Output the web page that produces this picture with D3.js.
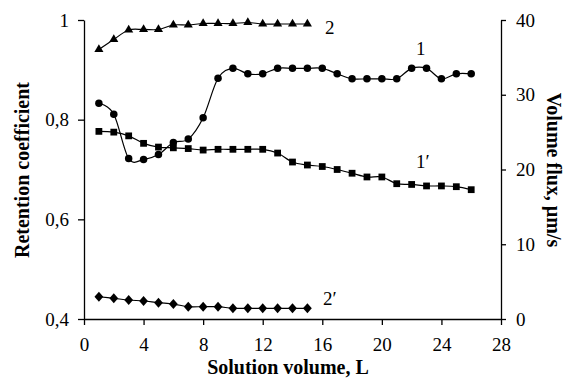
<!DOCTYPE html>
<html>
<head>
<meta charset="utf-8">
<script src="https://cdn.jsdelivr.net/npm/d3@7"></script>
<style>
  body { margin: 0; background: #fff; }
  svg text { font-family: 'Liberation Serif', 'Times New Roman', Tinos, 'DejaVu Serif', serif !important; fill: #000; }
</style>
</head>
<body>
<svg id="chart" width="566" height="384"></svg>
<script>
// solution volume, L
const volume = [1, 2, 3, 4, 5, 6, 7, 8, 9, 10, 11, 12, 13, 14, 15, 16, 17, 18, 19, 20, 21, 22, 23, 24, 25, 26];
const volumeShort = volume.slice(0, 15);

// retention coefficient (left axis)
const retention1 = [0.833, 0.811, 0.722, 0.720, 0.730, 0.754, 0.761, 0.804, 0.883, 0.903, 0.892, 0.892, 0.903, 0.903, 0.903,
                    0.903, 0.892, 0.882, 0.882, 0.882, 0.882, 0.903, 0.903, 0.882, 0.892, 0.892];
const retention2 = [0.941, 0.961, 0.980, 0.981, 0.981, 0.990, 0.990, 0.993, 0.993, 0.993, 0.995, 0.992, 0.992, 0.992, 0.992];

// volume flux, um/s (right axis)
const flux1 = [25.1, 25.0, 24.5, 23.5, 23.0, 22.9, 22.8, 22.6, 22.7, 22.7, 22.7, 22.7, 22.2, 21.0, 20.6,
               20.4, 20.0, 19.5, 19.0, 19.0, 18.1, 18.0, 17.8, 17.8, 17.7, 17.3];
const flux2 = [2.98, 2.77, 2.54, 2.41, 2.18, 2.0, 1.65, 1.65, 1.65, 1.43, 1.43, 1.43, 1.43, 1.43, 1.43];

const xTicks = [0, 4, 8, 12, 16, 20, 24, 28];
const leftTicks = [0.4, 0.6, 0.8, 1];
const rightTicks = [0, 10, 20, 30, 40];

const FONT = "'Liberation Serif', 'Times New Roman', Tinos, 'DejaVu Serif', serif";

const svg = d3.select('#chart');
const margin = {left: 84, right: 65, top: 20, bottom: 65};
const W = 566, H = 384;

const x = d3.scaleLinear().domain([0, 28]).range([margin.left, W - margin.right]);
const yL = d3.scaleLinear().domain([0.4, 1]).range([H - margin.bottom, margin.top]);
const yR = d3.scaleLinear().domain([0, 40]).range([H - margin.bottom, margin.top]);

const fmtComma = d => d === 1 ? '1' : d3.format('.1f')(d).replace('.', ',');

// axes
const styleAxis = g => {
  g.attr('font-family', FONT);
  g.select('.domain').attr('stroke', '#000').attr('stroke-width', 1.3);
  g.selectAll('.tick line').attr('stroke', '#000').attr('stroke-width', 1.3);
  g.selectAll('.tick text').style('font-size', '19px').style('font-family', FONT).attr('fill', '#000');
};

svg.append('g')
  .attr('transform', `translate(0,${H - margin.bottom})`)
  .call(d3.axisBottom(x).tickValues(xTicks).tickSize(6).tickSizeOuter(0).tickPadding(13))
  .call(styleAxis);

svg.append('g')
  .attr('transform', `translate(${margin.left},0)`)
  .call(d3.axisLeft(yL).tickValues(leftTicks).tickFormat(fmtComma).tickSize(6).tickSizeOuter(0).tickPadding(9))
  .call(styleAxis);

svg.append('g')
  .attr('transform', `translate(${W - margin.right},0)`)
  .call(d3.axisRight(yR).tickValues(rightTicks).tickSize(5).tickSizeOuter(0).tickPadding(10))
  .call(styleAxis);

// axis titles
svg.append('text')
  .attr('x', 288).attr('y', 374)
  .attr('text-anchor', 'middle')
  .style('font-family', FONT)
  .style('font-size', '20px').style('font-weight', 'bold')
  .text('Solution volume, L');

svg.append('text')
  .attr('transform', 'translate(29,170) rotate(-90)')
  .attr('text-anchor', 'middle')
  .style('font-family', FONT)
  .style('font-size', '20px').style('font-weight', 'bold')
  .text('Retention coefficient');

svg.append('text')
  .attr('transform', 'translate(547,170) rotate(90)')
  .attr('text-anchor', 'middle')
  .style('font-family', FONT)
  .style('font-size', '20px').style('font-weight', 'bold')
  .text('Volume flux, µm/s');

// custom diamond marker
const diamond = {
  draw(ctx, size) {
    const w = Math.sqrt(size) * 0.55, h = Math.sqrt(size) * 0.62;
    ctx.moveTo(0, -h); ctx.lineTo(w, 0); ctx.lineTo(0, h); ctx.lineTo(-w, 0); ctx.closePath();
  }
};

function drawSeries(xs, ys, yScale, symType, symSize) {
  const pts = xs.map((v, i) => [x(v), yScale(ys[i])]);
  svg.append('path')
    .attr('d', d3.line().curve(d3.curveCardinal.tension(0))(pts))
    .attr('fill', 'none')
    .attr('stroke', '#000')
    .attr('stroke-width', 1.2);
  svg.append('g').selectAll('path')
    .data(pts)
    .enter()
    .append('path')
    .attr('transform', d => `translate(${d[0]},${d[1]})`)
    .attr('d', d3.symbol().type(symType).size(symSize))
    .attr('fill', '#000');
}

drawSeries(volume, flux1, yR, d3.symbolSquare, 46);
drawSeries(volume, retention1, yL, d3.symbolCircle, 44);
drawSeries(volumeShort, retention2, yL, d3.symbolTriangle, 36);
drawSeries(volumeShort, flux2, yR, diamond, 64);

// series labels
const labels = [
  {t: '2', x: 325, y: 34},
  {t: '1', x: 416, y: 55},
  {t: '1\u2032', x: 416, y: 168},
  {t: '2\u2032', x: 323, y: 305}
];
svg.append('g').selectAll('text')
  .data(labels)
  .enter()
  .append('text')
  .attr('x', d => d.x).attr('y', d => d.y)
  .style('font-family', FONT)
  .style('font-size', '19px')
  .text(d => d.t);
</script>
</body>
</html>
